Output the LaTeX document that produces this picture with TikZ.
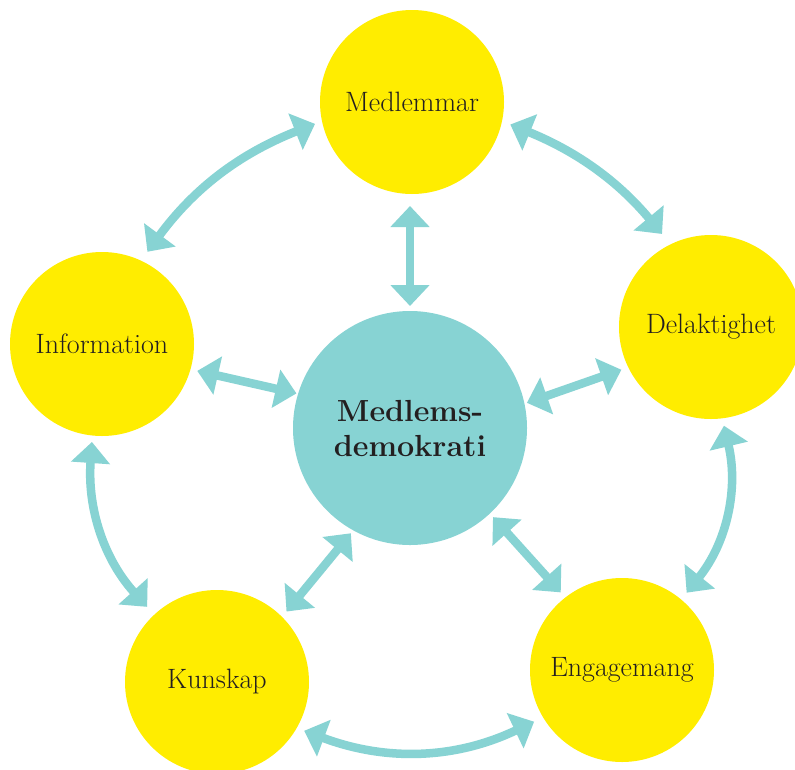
\documentclass[tikz,border=0pt]{standalone}
\usepackage{fontspec}
\usetikzlibrary{arrows.meta}
\definecolor{yel}{HTML}{FFED00}
\definecolor{tealc}{HTML}{87D3D3}
\definecolor{ink}{HTML}{231F20}
\begin{document}
\begin{tikzpicture}[x=1pt,y=1pt,
  sat/.style={circle,fill=yel,minimum size=184pt,inner sep=0pt,outer sep=0pt,text=ink,font=\fontsize{28}{32}\selectfont},
  hub/.style={circle,fill=tealc,minimum size=234pt,inner sep=0pt,outer sep=0pt,text=ink,align=center,font=\fontsize{30.5}{35}\selectfont\bfseries},
  link/.style={draw=tealc,line width=8.5pt,{Triangle[length=21pt,width=38pt]}-{Triangle[length=21pt,width=38pt]}}]
\useasboundingbox (0,0) rectangle (795,-769);
\fill[white] (0,0) rectangle (795,-769);
\node[sat] (med) at (412,-102) {Medlemmar};
\node[sat] (info) at (102,-344) {Information};
\node[sat] (del) at (711,-327) {Delaktighet};
\node[sat] (kun) at (217,-682) {Kunskap};
\node[sat] (eng) at (622,-670) {Engagemang};
\node[hub] (ctr) at (410,-428) {Medlems-\\demokrati};
% straight links
\draw[link,shorten <=12pt,shorten >=5pt] (ctr.north |- med.south) -- (ctr.north);
\draw[link,shorten <=7pt,shorten >=1.7pt] (info.-16.4) -- (ctr.163.9);
\draw[link,shorten <=7.3pt,shorten >=2.6pt] (del.206.3) -- (ctr.12.1);
\draw[link,shorten <=3.8pt,shorten >=7pt] (ctr.241.3) -- (kun.45);
\draw[link,shorten <=4.8pt,shorten >=6.9pt] (ctr.-47.7) -- (eng.128.8);
% curved links
\draw[link,shorten <=7.5pt,shorten >=11pt] (med.192.8) to[bend right=16] (info.65.4);
\draw[link,shorten <=9pt,shorten >=13.5pt] (med.-12.5) to[bend left=14] (del.116);
\draw[link,shorten <=6.5pt,shorten >=10.6pt] (info.264) to[bend right=23] (kun.133);
\draw[link,shorten <=7.6pt,shorten >=8.8pt] (del.-83.7) to[bend left=26] (eng.50);
\draw[link,shorten <=8pt,shorten >=10pt] (kun.-30.7) to[bend right=23] (eng.211);
\end{tikzpicture}
\end{document}
